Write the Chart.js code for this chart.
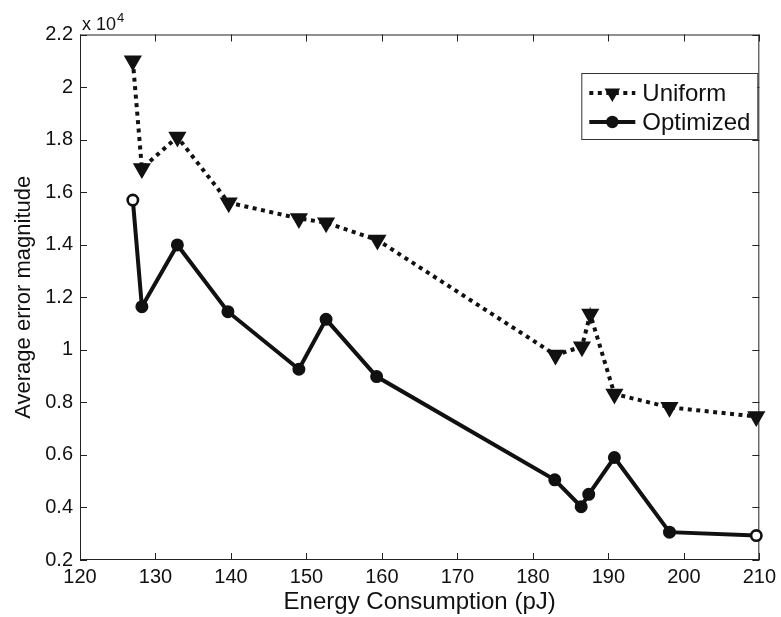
<!DOCTYPE html>
<html>
<head>
<meta charset="utf-8">
<title>Average error magnitude vs energy</title>
<script src="https://cdn.jsdelivr.net/npm/chart.js@4.4.1/dist/chart.umd.min.js"></script>
<style>
  html, body { margin: 0; padding: 0; background: #fff; }
  #wrap { width: 781px; height: 617px; }
</style>
</head>
<body>
<div id="wrap"><canvas id="errors" width="781" height="617"></canvas></div>
<script>
// data (error values are raw, axis shows them x 10^4)
const uniformEnergy = [127.0, 128.2, 132.9, 139.7, 149.0, 152.6, 159.4, 183.0, 186.5, 187.6, 190.8, 198.1, 209.6];
const uniformError = [21000, 16900, 18100, 15600, 15000, 14840, 14180, 9800, 10120, 11360, 8320, 7810, 7460];
const optimizedEnergy = [127.0, 128.2, 132.9, 139.6, 149.0, 152.6, 159.3, 182.9, 186.4, 187.4, 190.8, 198.1, 209.6];
const optimizedError = [15700, 11640, 13990, 11450, 9260, 11160, 8980, 5050, 4030, 4500, 5900, 3060, 2930];

const xTicks = [120, 130, 140, 150, 160, 170, 180, 190, 200, 210];
const xTickLabels = ["120", "130", "140", "150", "160", "170", "180", "190", "200", "210"];
const yTicks = [2000, 4000, 6000, 8000, 10000, 12000, 14000, 16000, 18000, 20000, 22000];
const yTickLabels = ["0.2", "0.4", "0.6", "0.8", "1", "1.2", "1.4", "1.6", "1.8", "2", "2.2"];

const FONT = "'Liberation Sans', Arial, Helvetica, sans-serif";
const INK = "#111";

const toPoints = (xs, ys) => xs.map((x, i) => ({ x: x, y: ys[i] }));

// box around the axes, ticks pointing inwards (matlab style)
const framePlugin = {
    id: "frame",
    beforeDatasetsDraw(chart) {
        const ctx = chart.ctx;
        const a = chart.chartArea;
        const xs = chart.scales.x, ys = chart.scales.y;
        const tl = 7;
        ctx.save();
        ctx.strokeStyle = "#222";
        ctx.lineWidth = 1;
        ctx.strokeRect(a.left + 0.5, a.top + 0.5, a.right - a.left - 1, a.bottom - a.top - 1);
        ctx.beginPath();
        xs.ticks.forEach((t) => {
            const px = Math.round(xs.getPixelForValue(t.value)) + 0.5;
            ctx.moveTo(px, a.bottom);
            ctx.lineTo(px, a.bottom - tl);
            ctx.moveTo(px, a.top);
            ctx.lineTo(px, a.top + tl);
        });
        ys.ticks.forEach((t) => {
            const py = Math.round(ys.getPixelForValue(t.value)) + 0.5;
            ctx.moveTo(a.left, py);
            ctx.lineTo(a.left + tl, py);
            ctx.moveTo(a.right, py);
            ctx.lineTo(a.right - tl, py);
        });
        ctx.stroke();
        ctx.restore();
    },
    afterDraw(chart) {
        const ctx = chart.ctx;
        const a = chart.chartArea;
        // exponent label
        ctx.save();
        ctx.fillStyle = INK;
        ctx.textBaseline = "alphabetic";
        ctx.font = "18px " + FONT;
        ctx.fillText("x 10", a.left + 2, a.top - 5);
        const w = ctx.measureText("x 10").width;
        ctx.font = "13px " + FONT;
        ctx.fillText("4", a.left + 3 + w, a.top - 13);
        ctx.restore();

        // legend box
        const bx = a.right - 178, by = a.top + 38.5, bw = 176, bh = 66;
        ctx.save();
        ctx.fillStyle = "#fff";
        ctx.fillRect(bx, by, bw, bh);
        ctx.strokeStyle = "#333";
        ctx.lineWidth = 1;
        ctx.strokeRect(bx + 0.5, by + 0.5, bw, bh);
        chart.data.datasets.forEach((ds, i) => {
            const ry = by + 20 + i * 29;
            ctx.strokeStyle = INK;
            ctx.lineWidth = ds.borderWidth;
            ctx.setLineDash(ds.borderDash || []);
            ctx.beginPath();
            ctx.moveTo(bx + 8, ry);
            ctx.lineTo(bx + 54, ry);
            ctx.stroke();
            ctx.setLineDash([]);
            const mx = bx + 31;
            ctx.fillStyle = INK;
            ctx.beginPath();
            if (ds.pointStyle === "triangle") {
                const r = ds.pointRadius;
                ctx.moveTo(mx - r * 0.866, ry - r / 2);
                ctx.lineTo(mx + r * 0.866, ry - r / 2);
                ctx.lineTo(mx, ry + r);
                ctx.closePath();
            } else {
                ctx.arc(mx, ry, ds.pointRadius + 1, 0, Math.PI * 2);
            }
            ctx.fill();
            ctx.font = "24px " + FONT;
            ctx.textBaseline = "middle";
            ctx.fillText(ds.label, bx + 61, ry + 1);
        });
        ctx.restore();
    },
};

const errorCanvas = document.getElementById("errors");
const errorConfig = {
    type: "line",
    data: {
        datasets: [
            {
                label: "Uniform",
                data: toPoints(uniformEnergy, uniformError),
                borderColor: INK,
                backgroundColor: INK,
                borderWidth: 4,
                borderDash: [4, 4.5],
                pointStyle: "triangle",
                rotation: 180,
                pointRadius: 9,
                pointBorderWidth: 1.5,
                pointBackgroundColor: INK,
                pointBorderColor: INK,
                tension: 0,
                clip: false,
            },
            {
                label: "Optimized",
                data: toPoints(optimizedEnergy, optimizedError),
                borderColor: INK,
                backgroundColor: INK,
                borderWidth: 4,
                pointStyle: "circle",
                pointRadius: 5.2,
                pointBorderWidth: 2.6,
                pointBackgroundColor: optimizedError.map((v, i) => (i === 0 || i === optimizedError.length - 1) ? "#fff" : INK),
                pointBorderColor: INK,
                tension: 0,
                clip: false,
            },
        ],
    },
    options: {
        responsive: false,
        animation: false,
        layout: {
            padding: { left: 0, top: 34.5, right: 21, bottom: 0 },
        },
        plugins: {
            legend: { display: false },
            tooltip: { enabled: false },
        },
        scales: {
            x: {
                type: "linear",
                min: 120,
                max: 210,
                afterBuildTicks: (scale) => {
                    scale.ticks = xTicks.map((v) => ({ value: v }));
                },
                afterFit: (scale) => {
                    scale.height = 57;
                },
                grid: { display: false, drawTicks: false },
                border: { display: false },
                ticks: {
                    padding: 5,
                    color: INK,
                    font: { size: 20, family: FONT },
                    maxRotation: 0,
                    autoSkip: false,
                    callback: (v, i) => xTickLabels[i],
                },
                title: {
                    display: true,
                    text: "Energy Consumption (pJ)",
                    color: INK,
                    font: { size: 24, family: FONT },
                    padding: { top: 0, bottom: 0 },
                },
            },
            y: {
                type: "linear",
                min: 2000,
                max: 22000,
                afterBuildTicks: (scale) => {
                    scale.ticks = yTicks.map((v) => ({ value: v }));
                },
                afterFit: (scale) => {
                    scale.width = 80;
                },
                grid: { display: false, drawTicks: false },
                border: { display: false },
                ticks: {
                    padding: 7,
                    color: INK,
                    font: { size: 20, family: FONT },
                    autoSkip: false,
                    callback: (v, i) => yTickLabels[i],
                },
                title: {
                    display: true,
                    text: "Average error magnitude",
                    color: INK,
                    font: { size: 22, family: FONT },
                    padding: { top: 11, bottom: 0 },
                },
            },
        },
    },
    plugins: [framePlugin],
};

var errorChart = new Chart(errorCanvas, errorConfig);
</script>
</body>
</html>
